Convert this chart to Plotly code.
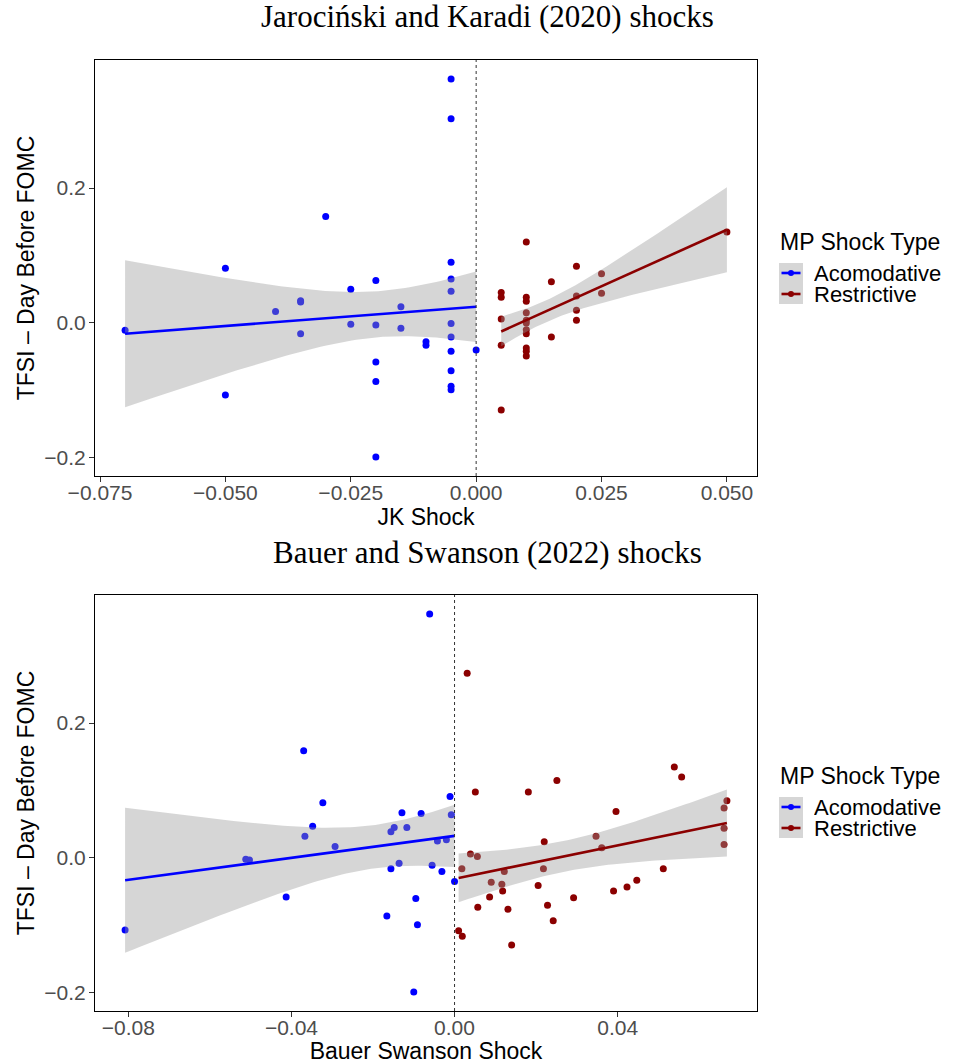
import numpy as np
import plotly.graph_objects as go

# ---------------- data ----------------
# Jarocinski & Karadi (2020) shocks
jk_acom_x = [-0.070, -0.050, -0.050, -0.030, -0.040, -0.035, -0.035, -0.035, -0.025, -0.025,
             -0.020, -0.020, -0.020, -0.020, -0.020, -0.015, -0.015, -0.010, -0.010,
             -0.005, -0.005, -0.005, -0.005, -0.005, -0.005, -0.005, -0.005, -0.005, -0.005, -0.005,
             0.000]
jk_acom_y = [-0.011, 0.081, -0.107, 0.158, 0.017, 0.033, 0.031, -0.016, 0.050, -0.002,
             0.063, -0.003, -0.058, -0.087, -0.199, 0.024, -0.008, -0.028, -0.033,
             0.362, 0.303, 0.090, 0.065, 0.047, -0.001, -0.021, -0.042, -0.071, -0.094, -0.099,
             -0.040]
jk_rest_x = [0.005, 0.005, 0.005, 0.005, 0.005,
             0.010, 0.010, 0.010, 0.010, 0.010, 0.010, 0.010, 0.010, 0.010, 0.010, 0.010,
             0.015, 0.015, 0.020, 0.020, 0.020, 0.020, 0.025, 0.025, 0.050]
jk_rest_y = [0.045, 0.038, 0.006, -0.033, -0.129,
             0.120, 0.038, 0.032, 0.015, 0.004, 0.000, -0.010, -0.016, -0.037, -0.042, -0.049,
             0.061, -0.021, 0.084, 0.040, 0.019, 0.004, 0.073, 0.044, 0.135]

# Bauer & Swanson (2022) shocks
bs_acom_x = [-0.0808, -0.0512, -0.0503, -0.0413, -0.0370, -0.0367, -0.0348, -0.0323, -0.0293,
             -0.0166, -0.0156, -0.0148, -0.0156, -0.0136, -0.0129, -0.0117, -0.0095, -0.0091,
             -0.0100, -0.0082, -0.0061, -0.0011, -0.0008, -0.0042, -0.0020, -0.0055, -0.0031,
             0.0000]
bs_acom_y = [-0.107, -0.002, -0.003, -0.058, 0.159, 0.032, 0.047, 0.082, 0.017,
             -0.086, 0.039, 0.045, -0.016, -0.008, 0.067, 0.045, -0.060, -0.099,
             -0.199, 0.066, 0.362, 0.091, 0.064, 0.025, 0.027, -0.011, -0.020,
             -0.035]
bs_rest_x = [0.0031, 0.0051, 0.0039, 0.0056, 0.0018, 0.0057, 0.0010, 0.0019, 0.0090, 0.0086,
             0.0122, 0.0116, 0.0118, 0.0131, 0.0140, 0.0181, 0.0220, 0.0218, 0.0205, 0.0228,
             0.0242, 0.0251, 0.0292, 0.0347, 0.0361, 0.0390, 0.0396, 0.0423, 0.0447, 0.0512,
             0.0539, 0.0557, 0.0668, 0.0661, 0.0661, 0.0661]
bs_rest_y = [0.274, 0.098, 0.006, 0.002, -0.016, -0.073, -0.108, -0.116, -0.036, -0.058,
             -0.020, -0.039, -0.049, -0.076, -0.129, 0.098, 0.024, -0.016, -0.041, -0.070,
             -0.093, 0.115, -0.059, 0.032, 0.015, -0.049, 0.069, -0.043, -0.033, -0.016,
             0.135, 0.120, 0.085, 0.074, 0.044, 0.020]

groups = ["Acomodative", "Restrictive"]
legend_title = "MP Shock Type"
titles = ["Jarociński and Karadi (2020) shocks", "Bauer and Swanson (2022) shocks"]
x_titles = ["JK Shock", "Bauer Swanson Shock"]
y_title = "TFSI – Day Before FOMC"

jk_tick_vals = [-0.075, -0.050, -0.025, 0.000, 0.025, 0.050]
jk_tick_text = ["−0.075", "−0.050", "−0.025", "0.000", "0.025", "0.050"]
bs_tick_vals = [-0.08, -0.04, 0.00, 0.04]
bs_tick_text = ["−0.08", "−0.04", "0.00", "0.04"]
y_tick_vals = [-0.2, 0.0, 0.2]
y_tick_text = ["−0.2", "0.0", "0.2"]

# ---------------- styling ----------------
W, H = 956, 1064
COL = {"Acomodative": "#0000FF", "Restrictive": "#8B0000"}
RIBBON = "rgba(153,153,153,0.4)"
SANS = "Liberation Sans, Arial, sans-serif"
SERIF = "Liberation Serif, Times New Roman, serif"
Z_LEVEL = 1.644854  # two-sided 90% band


def px_x(p):
    return p / W


def px_y(p):
    return 1 - p / H


def t_quant(df, z=Z_LEVEL):
    return (z + (z**3 + z) / (4 * df) + (5 * z**5 + 16 * z**3 + 3 * z) / (96 * df**2)
            + (3 * z**7 + 19 * z**5 + 17 * z**3 - 15 * z) / (384 * df**3))


def lm_fit(x, y, n=80):
    x = np.asarray(x, float)
    y = np.asarray(y, float)
    X = np.column_stack([np.ones_like(x), x])
    beta = np.linalg.lstsq(X, y, rcond=None)[0]
    resid = y - X @ beta
    dfree = len(x) - 2
    s2 = resid @ resid / dfree
    XtXi = np.linalg.inv(X.T @ X)
    xs = np.linspace(x.min(), x.max(), n)
    Xs = np.column_stack([np.ones_like(xs), xs])
    fit = Xs @ beta
    se = np.sqrt(s2 * np.einsum("ij,jk,ik->i", Xs, XtXi, Xs))
    t = t_quant(dfree)
    return xs, fit, fit - t * se, fit + t * se


def expand(vals, f=0.05):
    lo, hi = min(vals), max(vals)
    d = (hi - lo) * f
    return [lo - d, hi + d]


fig = go.Figure()

panels = [
    ("x", "y", {"Acomodative": (jk_acom_x, jk_acom_y), "Restrictive": (jk_rest_x, jk_rest_y)}),
    ("x2", "y2", {"Acomodative": (bs_acom_x, bs_acom_y), "Restrictive": (bs_rest_x, bs_rest_y)}),
]

for xa, ya, dat in panels:
    for g in groups:
        gx, gy = dat[g]
        fig.add_trace(go.Scatter(x=gx, y=gy, mode="markers", xaxis=xa, yaxis=ya,
                                 marker=dict(color=COL[g], size=7, line=dict(width=0)),
                                 name=g, showlegend=False, hoverinfo="x+y"))
    for g in groups:
        gx, gy = dat[g]
        xs, fit, lo, hi = lm_fit(gx, gy)
        fig.add_trace(go.Scatter(x=np.concatenate([xs, xs[::-1]]),
                                 y=np.concatenate([hi, lo[::-1]]),
                                 mode="lines", fill="toself", fillcolor=RIBBON,
                                 line=dict(width=0), xaxis=xa, yaxis=ya,
                                 showlegend=False, hoverinfo="skip"))
        fig.add_trace(go.Scatter(x=xs, y=fit, mode="lines", xaxis=xa, yaxis=ya,
                                 line=dict(color=COL[g], width=2.6),
                                 showlegend=False, hoverinfo="skip"))

jk_xr = expand(jk_acom_x + jk_rest_x)
jk_yr = expand(jk_acom_y + jk_rest_y)
bs_xr = expand(bs_acom_x + bs_rest_x)
bs_yr = expand(bs_acom_y + bs_rest_y)

xdom = [px_x(95), px_x(757)]
ydom_top = [px_y(476), px_y(60)]
ydom_bot = [px_y(1011), px_y(595)]

common_axis = dict(showgrid=False, zeroline=False, showline=True, mirror=True,
                   linecolor="black", linewidth=1, ticks="outside", ticklen=5,
                   tickwidth=1, tickcolor="#333333", automargin=False,
                   tickfont=dict(family=SANS, size=21, color="#4D4D4D"))
xtitle_font = dict(family=SANS, size=23, color="black")

fig.update_layout(
    width=W, height=H,
    margin=dict(l=0, r=0, t=0, b=0, autoexpand=False),
    paper_bgcolor="white", plot_bgcolor="white",
    showlegend=False,
    xaxis=dict(domain=xdom, anchor="y", range=jk_xr, tickmode="array",
               tickvals=jk_tick_vals, ticktext=jk_tick_text, ticklabelstandoff=-7,
               title=dict(text=x_titles[0], font=xtitle_font, standoff=0), **common_axis),
    yaxis=dict(domain=ydom_top, anchor="x", range=jk_yr, tickmode="array",
               tickvals=y_tick_vals, ticktext=y_tick_text, ticklabelstandoff=-1,
               title=dict(text=y_title, font=xtitle_font, standoff=3), **common_axis),
    xaxis2=dict(domain=xdom, anchor="y2", range=bs_xr, tickmode="array",
                tickvals=bs_tick_vals, ticktext=bs_tick_text, ticklabelstandoff=-7,
                title=dict(text=x_titles[1], font=xtitle_font, standoff=0), **common_axis),
    yaxis2=dict(domain=ydom_bot, anchor="x2", range=bs_yr, tickmode="array",
                tickvals=y_tick_vals, ticktext=y_tick_text, ticklabelstandoff=-1,
                title=dict(text=y_title, font=xtitle_font, standoff=3), **common_axis),
)

for xa, ya in [("x", "y"), ("x2", "y2")]:
    fig.add_shape(type="line", xref=xa, yref=f"{ya} domain", x0=0, x1=0, y0=0, y1=1,
                  line=dict(color="#333333", width=1, dash="dot"), layer="above")

for title, yc in zip(titles, [17, 552]):
    fig.add_annotation(text=title, x=px_x(487), y=px_y(yc), xref="paper", yref="paper",
                       xanchor="center", yanchor="middle", showarrow=False,
                       font=dict(family=SERIF, size=31, color="black"))

for dy in [0, 534]:
    fig.add_annotation(text=legend_title, x=px_x(778), y=px_y(242 + dy), xref="paper",
                       yref="paper", xanchor="left", yanchor="middle", showarrow=False,
                       font=dict(family=SANS, size=23, color="black"))
    fig.add_shape(type="rect", xref="paper", yref="paper",
                  x0=px_x(779), x1=px_x(803), y0=px_y(263 + dy), y1=px_y(304 + dy),
                  fillcolor="#D6D6D6", line=dict(width=0), layer="above")
    for g, yc in zip(groups, [273, 294]):
        fig.add_shape(type="line", xref="paper", yref="paper",
                      x0=px_x(781.5), x1=px_x(800.5), y0=px_y(yc + dy), y1=px_y(yc + dy),
                      line=dict(color=COL[g], width=2.6), layer="above")
        fig.add_shape(type="circle", xref="paper", yref="paper",
                      x0=px_x(788), x1=px_x(794), y0=px_y(yc + dy - 3), y1=px_y(yc + dy + 3),
                      fillcolor=COL[g], line=dict(width=0), layer="above")
        fig.add_annotation(text=g, x=px_x(813), y=px_y(yc + dy), xref="paper", yref="paper",
                           xanchor="left", yanchor="middle", showarrow=False, height=20,
                           borderpad=0,
                           font=dict(family=SANS, size=22, color="black"))

fig.write_html("out.html", config={"displayModeBar": False},
               post_script="document.body.style.margin='0px';")
